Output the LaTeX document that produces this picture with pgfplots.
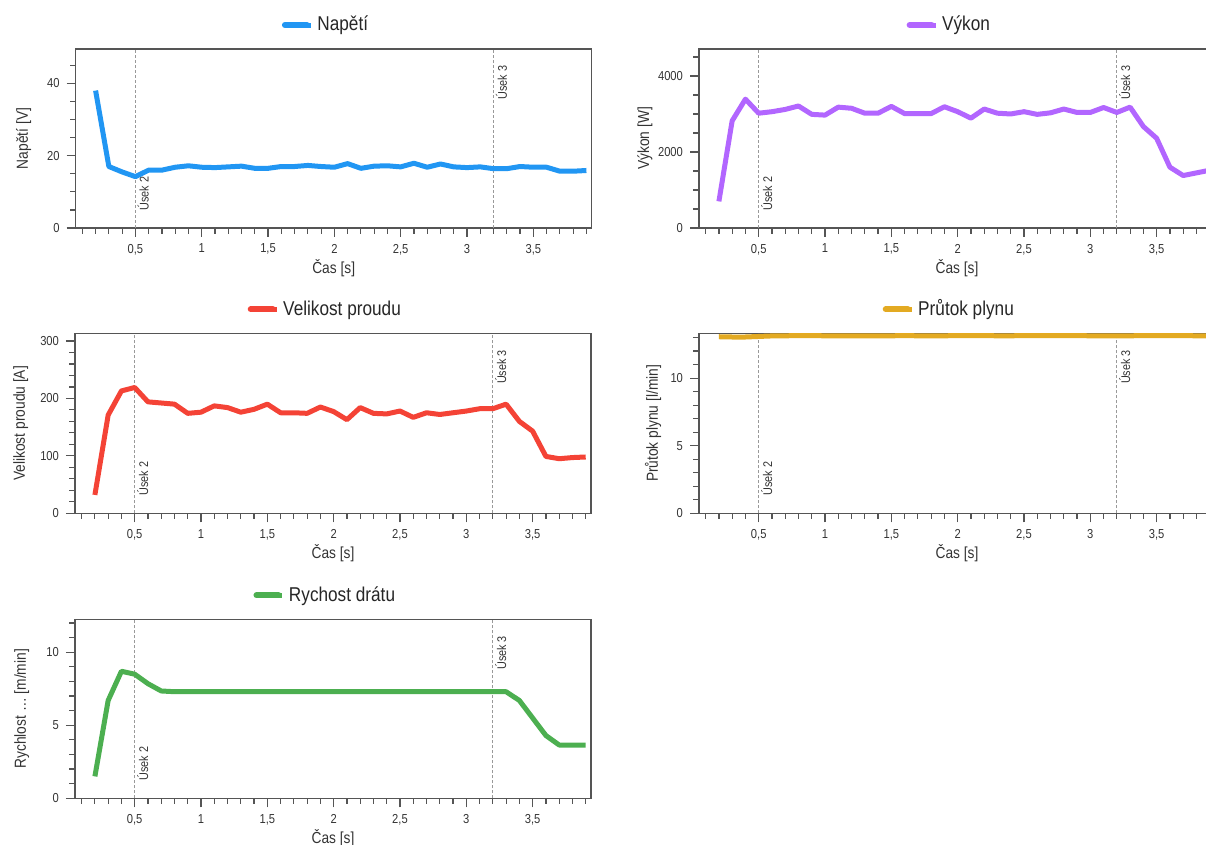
\documentclass[border=0pt]{standalone}
\usepackage{fontspec}
\setmainfont{Liberation Sans}[FakeStretch=0.86]
\usepackage{pgfplots}
\usepackage{pgfplotstable}
\pgfplotsset{compat=1.18}

\definecolor{cblue}{HTML}{2196F3}
\definecolor{cpurple}{HTML}{B266FF}
\definecolor{cred}{HTML}{F44336}
\definecolor{cgold}{HTML}{E3AA22}
\definecolor{cgreen}{HTML}{4CAF50}
\definecolor{ctext}{HTML}{333333}
\definecolor{caxis}{HTML}{555555}

% t = cas [s], U = napeti, P = vykon, I = proud, Q = prutok plynu, v = rychlost dratu
\pgfplotstableread{
t    U     P     I    Q      v
0.2  38.0  700   32   13.06  1.5
0.3  17.0  2820  171  13.04  6.7
0.4  15.5  3390  213  13.04  8.7
0.5  14.2  3020  219  13.08  8.5
0.6  16.0  3060  194  13.12  7.85
0.7  16.0  3120  192  13.13  7.35
0.8  16.8  3210  190  13.14  7.3
0.9  17.2  2990  174  13.14  7.3
1.0  16.8  2970  176  13.13  7.3
1.1  16.7  3180  187  13.13  7.3
1.2  16.9  3150  184  13.13  7.3
1.3  17.1  3020  176  13.12  7.3
1.4  16.5  3020  181  13.12  7.3
1.5  16.5  3200  190  13.13  7.3
1.6  17.0  3010  175  13.14  7.3
1.7  17.0  3010  175  13.13  7.3
1.8  17.3  3010  174  13.13  7.3
1.9  17.0  3190  185  13.13  7.3
2.0  16.8  3060  177  13.14  7.3
2.1  17.8  2890  163  13.14  7.3
2.2  16.5  3130  184  13.14  7.3
2.3  17.1  3020  174  13.13  7.3
2.4  17.2  3000  173  13.13  7.3
2.5  16.9  3060  178  13.14  7.3
2.6  17.9  2990  167  13.14  7.3
2.7  16.8  3030  175  13.14  7.3
2.8  17.7  3130  172  13.14  7.3
2.9  16.9  3040  175  13.14  7.3
3.0  16.7  3040  178  13.13  7.3
3.1  16.9  3170  182  13.13  7.3
3.2  16.4  3040  182  13.13  7.3
3.3  16.4  3180  190  13.13  7.3
3.4  17.0  2670  160  13.14  6.7
3.5  16.8  2360  143  13.14  5.5
3.6  16.8  1600  99   13.14  4.3
3.7  15.7  1380  95   13.14  3.65
3.8  15.7  1450  97   13.13  3.65
3.9  15.9  1520  98   13.12  3.65
}\data

\pgfplotsset{
  panel/.style={
    scale only axis, width=258pt, height=89.5pt,
    anchor=south west,
    xmin=0.05, xmax=3.94, ymin=0,
    xtick={0.5,1,1.5,2,2.5,3,3.5},
    minor xtick={0.1,0.2,...,3.95},
    tick align=outside, tick pos=left,
    major tick length=4.5pt, minor tick length=2.8pt,
    every tick/.style={caxis, line width=0.6pt},
    axis line style={caxis, line width=0.7pt},
    tick label style={font=\fontsize{6.5}{7}\selectfont, text=ctext},
    /pgf/number format/use comma,
    /pgf/number format/1000 sep={},
    /pgf/number format/assume math mode=true,
    xlabel={Čas [s]},
    xlabel style={at={(axis description cs:0.5,-0.2235)}, anchor=center,
      font=\fontsize{8}{9.6}\selectfont, text=ctext},
    ylabel style={anchor=center, font=\fontsize{8}{9.6}\selectfont, text=ctext},
    legend style={draw=none, fill=none, at={(0.487,1.134)}, anchor=center,
      font=\fontsize{10}{12}\selectfont, text=black!85},
    legend image code/.code={%
      \draw[##1, line width=3pt, line cap=round] (0pt,0pt) -- (11pt,0pt);
      \path (0pt,0pt) -- (13pt,0pt);},
    every axis plot/.append style={line width=2.5pt, line join=round},
  },
}
\tikzset{
  usekline/.style={draw=black!40, line width=0.5pt, dash pattern=on 1.5pt off 1pt},
  useklabel/.style={rotate=90, inner sep=1pt, font=\fontsize{6.3}{7}\selectfont, text=ctext},
}

\newcommand{\useky}{%
  \draw[usekline] ({axis cs:0.5,0}|-{rel axis cs:0,0}) -- ({axis cs:0.5,0}|-{rel axis cs:0,1});
  \draw[usekline] ({axis cs:3.2,0}|-{rel axis cs:0,0}) -- ({axis cs:3.2,0}|-{rel axis cs:0,1});
  \node[useklabel, anchor=north west] at ({axis cs:0.5,0}|-{rel axis cs:0,0.085}) {Úsek 2};
  \node[useklabel, anchor=north east] at ({axis cs:3.2,0}|-{rel axis cs:0,0.92}) {Úsek 3};
}

\begin{document}
\begin{tikzpicture}

% Napeti
\begin{axis}[panel, at={(37.85pt,308.5pt)},
    ymax=49.5, ytick={0,20,40}, minor ytick={5,10,15,25,30,35,45},
    ylabel={Napětí [V]}, ylabel style={at={(axis description cs:-0.101,0.5)}}]
  \useky
  \addplot[cblue] table[x=t, y=U] {\data};
  \addlegendentry{Napětí}
\end{axis}

% Vykon
\begin{axis}[panel, at={(349.5pt,308.5pt)},
    ymax=4710, ytick={0,2000,4000}, minor ytick={500,1000,1500,2500,3000,3500,4500},
    ylabel={Výkon [W]}, ylabel style={at={(axis description cs:-0.105,0.5)}}]
  \useky
  \addplot[cpurple] table[x=t, y=P] {\data};
  \addlegendentry{Výkon}
\end{axis}

% Velikost proudu
\begin{axis}[panel, at={(37.5pt,165.85pt)}, height=89.9pt,
    ymax=313, ytick={0,100,200,300}, minor ytick={20,40,60,80,120,140,160,180,220,240,260,280},
    ylabel={Velikost proudu [A]}, ylabel style={at={(axis description cs:-0.105,0.5)}}]
  \useky
  \addplot[cred] table[x=t, y=I] {\data};
  \addlegendentry{Velikost proudu}
\end{axis}

% Prutok plynu
\begin{axis}[panel, at={(349.5pt,165.85pt)}, height=89.9pt,
    ymax=13.3, ytick={0,5,10}, minor ytick={1,2,3,4,6,7,8,9,11,12,13},
    ylabel={Průtok plynu [l/min]}, ylabel style={at={(axis description cs:-0.089,0.5)}}]
  \useky
  \addplot[cgold] table[x=t, y=Q] {\data};
  \addlegendentry{Průtok plynu}
\end{axis}

% Rychlost dratu
\begin{axis}[panel, at={(37.5pt,23.35pt)},
    ymax=12.26, ytick={0,5,10}, minor ytick={1,2,3,4,6,7,8,9,11,12},
    ylabel={Rychlost … [m/min]}, ylabel style={at={(axis description cs:-0.103,0.5)}}]
  \useky
  \addplot[cgreen] table[x=t, y=v] {\data};
  \addlegendentry{Rychost drátu}
\end{axis}

\pgfresetboundingbox
\useasboundingbox (0,0) rectangle (603pt,422.5pt);
\end{tikzpicture}
\end{document}
